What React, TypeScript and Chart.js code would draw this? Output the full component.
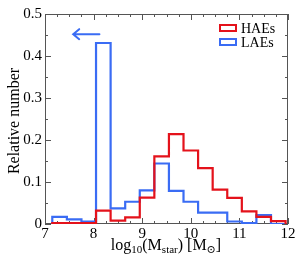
import React, { useEffect, useRef } from "react";
import { Chart, registerables } from "chart.js";

Chart.register(...registerables);

const binEdges = [7.15, 7.45, 7.75, 8.05, 8.35, 8.65, 8.95, 9.25, 9.55, 9.85, 10.15, 10.45, 10.75, 11.05, 11.35, 11.65, 11.95];
const haeValues = [0.002, 0.002, 0.002, 0.032, 0.008, 0.016, 0.063, 0.161, 0.214, 0.175, 0.133, 0.082, 0.062, 0.030, 0.017, 0.007];
const laeValues = [0.017, 0.011, 0.006, 0.431, 0.037, 0.053, 0.080, 0.144, 0.079, 0.053, 0.027, 0.027, 0.006, 0.002, 0.021, 0.0];
const seriesLabels = ["HAEs", "LAEs"];
const xTicks = [7, 8, 9, 10, 11, 12];
const yTicks = [0, 0.1, 0.2, 0.3, 0.4, 0.5];
const arrowFrom = { x: 8.12, y: 0.452 };
const arrowTo = { x: 7.58, y: 0.452 };

const RED = "#e4121b";
const BLUE = "#3a6cf4";
const FRAME = "#555555";
const SERIF = "'Liberation Serif', 'DejaVu Serif', serif";

function stepPoints(edges: number[], vals: number[]) {
  const pts: { x: number; y: number }[] = [{ x: edges[0], y: 0 }];
  for (let i = 0; i < vals.length; i++) pts.push({ x: edges[i], y: vals[i] });
  pts.push({ x: edges[vals.length], y: 0 });
  return pts;
}

const decorPlugin = {
  id: "decor",
  beforeDatasetsDraw(chart: any) {
    const { ctx, chartArea: a, scales } = chart;
    const xs = scales.x, ys = scales.y;
    ctx.save();
    ctx.strokeStyle = FRAME;
    ctx.lineWidth = 1;
    ctx.strokeRect(a.left + 0.5, a.top + 0.5, a.right - a.left - 1, a.bottom - a.top - 1);
    for (let v = 7; v <= 12.0001; v += 0.25) {
      const px = Math.round(xs.getPixelForValue(v)) + 0.5;
      const major = Math.abs(v - Math.round(v)) < 1e-6;
      const len = major ? 6 : 3;
      ctx.beginPath();
      ctx.moveTo(px, a.bottom); ctx.lineTo(px, a.bottom - len);
      ctx.moveTo(px, a.top); ctx.lineTo(px, a.top + len);
      ctx.stroke();
    }
    for (let k = 0; k <= 10; k++) {
      const v = k * 0.05;
      const py = Math.round(ys.getPixelForValue(v)) + 0.5;
      const len = k % 2 === 0 ? 6 : 3;
      ctx.beginPath();
      ctx.moveTo(a.left, py); ctx.lineTo(a.left + len, py);
      ctx.moveTo(a.right, py); ctx.lineTo(a.right - len, py);
      ctx.stroke();
    }
    ctx.restore();
  },
  afterDraw(chart: any) {
    const { ctx, scales } = chart;
    const xs = scales.x, ys = scales.y;
    ctx.save();
    const x1 = xs.getPixelForValue(arrowFrom.x), y1 = ys.getPixelForValue(arrowFrom.y);
    const x2 = xs.getPixelForValue(arrowTo.x), y2 = ys.getPixelForValue(arrowTo.y);
    ctx.strokeStyle = BLUE;
    ctx.lineWidth = 2;
    ctx.lineCap = "round";
    ctx.beginPath();
    ctx.moveTo(x1, y1); ctx.lineTo(x2, y2);
    ctx.moveTo(x2 + 6, y2 - 5); ctx.lineTo(x2, y2); ctx.lineTo(x2 + 6, y2 + 5);
    ctx.stroke();
    const colors = [RED, BLUE];
    ctx.lineCap = "butt";
    ctx.font = "14px " + SERIF;
    ctx.textBaseline = "middle";
    ctx.fillStyle = "#000";
    chart.data.datasets.forEach((ds: any, i: number) => {
      const cy = 28 + i * 14;
      ctx.strokeStyle = colors[i];
      ctx.lineWidth = 2;
      ctx.strokeRect(220, cy - 3, 16, 6);
      ctx.fillText(ds.label, 241, cy + 1);
    });
    const big = "16px " + SERIF, small = "11px " + SERIF;
    const parts: [string, boolean][] = [["log", false], ["10", true], ["(M", false], ["star", true], [") [M", false], ["\u2299", true], ["]", false]];
    let total = 0;
    parts.forEach(([t, s]) => { ctx.font = s ? small : big; total += ctx.measureText(t).width; });
    let cx = 166 - total / 2;
    const base = 250;
    ctx.textBaseline = "alphabetic";
    ctx.textAlign = "left";
    parts.forEach(([t, s]) => {
      ctx.font = s ? small : big;
      ctx.fillText(t, cx, s ? base + 3 : base);
      cx += ctx.measureText(t).width;
    });
    ctx.translate(15, 121);
    ctx.rotate(-Math.PI / 2);
    ctx.font = "16px " + SERIF;
    ctx.textAlign = "center";
    ctx.textBaseline = "middle";
    ctx.fillText("Relative number", 0, 0);
    ctx.restore();
  },
};

export default function App() {
  const ref = useRef<HTMLCanvasElement>(null);
  useEffect(() => {
    if (!ref.current) return;
    const chart = new Chart(ref.current, {
      type: "line",
      data: {
        datasets: [
          { label: seriesLabels[0], data: stepPoints(binEdges, haeValues), borderColor: RED, borderWidth: 2.2, pointRadius: 0, stepped: true, fill: false },
          { label: seriesLabels[1], data: stepPoints(binEdges, laeValues), borderColor: BLUE, borderWidth: 2.2, pointRadius: 0, stepped: true, fill: false },
        ],
      },
      options: {
        animation: false,
        responsive: true,
        maintainAspectRatio: false,
        layout: { padding: { top: 14, right: 17, left: 0, bottom: 0 } },
        plugins: { legend: { display: false }, tooltip: { enabled: false } },
        scales: {
          x: {
            type: "linear", min: 7, max: 12,
            afterBuildTicks: (s: any) => { s.ticks = xTicks.map((v) => ({ value: v })); },
            ticks: { font: { family: SERIF, size: 15 }, color: "#000", padding: 1, maxRotation: 0 },
            grid: { display: false, drawTicks: false },
            border: { display: false },
            afterFit: (s: any) => { s.height = 39; },
          },
          y: {
            type: "linear", min: 0, max: 0.5,
            afterBuildTicks: (s: any) => { s.ticks = yTicks.map((v) => ({ value: v })); },
            ticks: { font: { family: SERIF, size: 15 }, color: "#000", padding: 3, callback: (v: any) => (v === 0 ? "0" : Number(v).toFixed(1)) },
            grid: { display: false, drawTicks: false },
            border: { display: false },
            afterFit: (s: any) => { s.width = 45; },
          },
        },
      },
      plugins: [decorPlugin],
    });
    return () => chart.destroy();
  }, []);
  return (
    <div style={{ position: "absolute", left: 0, top: 0, width: 305, height: 263, background: "#fff" }}>
      <canvas ref={ref} />
    </div>
  );
}
